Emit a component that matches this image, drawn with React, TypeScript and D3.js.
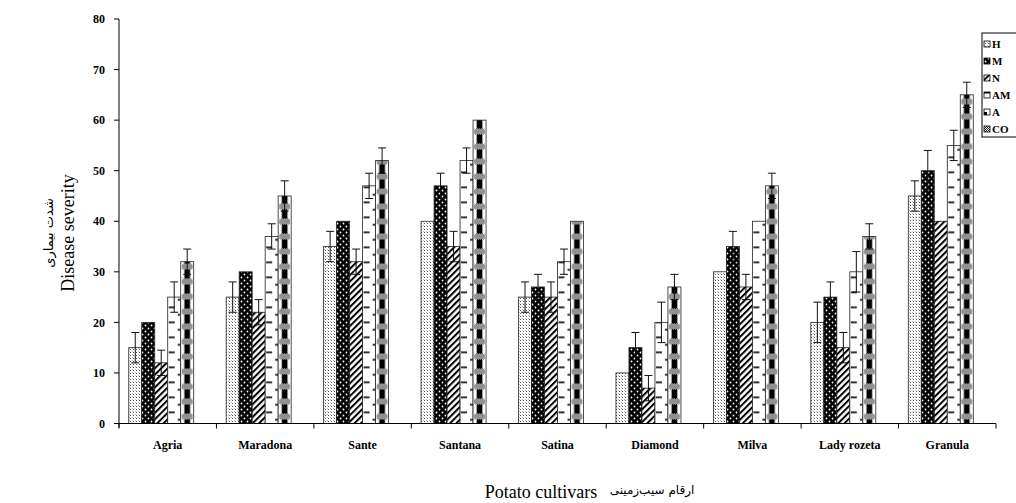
import React from "react";
import * as d3 from "d3";

const categories = ["Agria", "Maradona", "Sante", "Santana", "Satina", "Diamond", "Milva", "Lady rozeta", "Granula"];
const seriesNames = ["H", "M", "N", "AM", "A", "CO"];
const valH = [15, 25, 35, 40, 25, 10, 30, 20, 45];
const valM = [20, 30, 40, 47, 27, 15, 35, 25, 50];
const valN = [12, 22, 32, 35, 25, 7, 27, 15, 40];
const valAM = [25, 37, 47, 52, 32, 20, 40, 30, 55];
const valA = [32, 45, 52, 60, 40, 27, 47, 37, 65];
const errH = [3, 3, 3, 0, 3, 0, 0, 4, 3];
const errM = [0, 0, 0, 2.5, 2.5, 3, 3, 3, 4];
const errN = [2.5, 2.5, 2.5, 3, 3, 2.5, 2.5, 3, 0];
const errAM = [3, 2.5, 2.5, 2.5, 2.5, 4, 0, 4, 3];
const errA = [2.5, 3, 2.5, 0, 0, 2.5, 2.5, 2.5, 2.5];
const yTicks = [0, 10, 20, 30, 40, 50, 60, 70, 80];

const seriesData = [
  { name: "H", vals: valH, errs: errH },
  { name: "M", vals: valM, errs: errM },
  { name: "N", vals: valN, errs: errN },
  { name: "AM", vals: valAM, errs: errAM },
  { name: "A", vals: valA, errs: errA },
];

const W = 1016, H = 503;
const left = 119, right = 996, top = 19, bottom = 423.5;
const serif = "'Liberation Serif', 'Times New Roman', serif";

export default function App() {
  const x0 = d3.scaleBand<string>().domain(categories).range([left, right]).paddingInner(0).paddingOuter(0);
  const x1 = d3.scaleBand<string>().domain(seriesNames).range([0, x0.bandwidth()]).paddingInner(0).paddingOuter(0.75);
  const y = d3.scaleLinear().domain([0, 80]).range([bottom, top]);
  const bw = x1.bandwidth();

  const bars: any[] = [];
  seriesData.forEach((s) => {
    s.vals.forEach((v, i) => {
      const bx = (x0(categories[i]) as number) + (x1(s.name) as number);
      bars.push({ s: s.name, i, x: bx, y: y(v), h: y(0) - y(v), e: s.errs[i], v });
    });
  });

  const fillFor = (b: any) => {
    if (b.s === "H") return "url(#pH)";
    if (b.s === "M") return "url(#pM)";
    if (b.s === "N") return "url(#pN)";
    if (b.s === "AM") return `url(#pAM-${b.i})`;
    return `url(#pA-${b.i})`;
  };

  const legendY0 = 45, legendStep = 17;

  return (
    <svg width={W} height={H} style={{ position: "absolute", left: 0, top: 0, background: "#fff" }}>
      <defs>
        <pattern id="pH" patternUnits="userSpaceOnUse" width="3" height="3">
          <rect width="3" height="3" fill="#fff" />
          <rect x="1" y="1" width="1" height="1" fill="#555" />
          <rect x="0" y="0" width="1" height="1" fill="#bbb" />
        </pattern>
        <pattern id="pM" patternUnits="userSpaceOnUse" width="6" height="6">
          <rect width="6" height="6" fill="#000" />
          <circle cx="1.5" cy="1.5" r="0.9" fill="#fff" />
          <circle cx="4.5" cy="4.5" r="0.9" fill="#fff" />
        </pattern>
        <pattern id="pN" patternUnits="userSpaceOnUse" width="4.5" height="4.5" patternTransform="rotate(45)">
          <rect width="4.5" height="4.5" fill="#fff" />
          <rect width="2" height="4.5" fill="#000" />
        </pattern>
        <pattern id="chk" patternUnits="userSpaceOnUse" width="2" height="2">
          <rect width="2" height="2" fill="#fff" />
          <rect width="1" height="1" fill="#222" />
          <rect x="1" y="1" width="1" height="1" fill="#222" />
        </pattern>
        {categories.map((c, i) => {
          const bx = (x0(c) as number) + (x1("AM") as number);
          return (
            <pattern key={"am" + i} id={`pAM-${i}`} patternUnits="userSpaceOnUse" x={bx} y={bottom} width={bw} height="15">
              <rect width={bw} height="15" fill="#fff" />
              <rect x="1" y="3" width="6" height="1.6" fill="#000" />
              <rect x={bw - 3} y="10.5" width="3" height="1.6" fill="#000" />
            </pattern>
          );
        })}
        {categories.map((c, i) => {
          const bx = (x0(c) as number) + (x1("A") as number);
          return (
            <pattern key={"a" + i} id={`pA-${i}`} patternUnits="userSpaceOnUse" x={bx} y={bottom} width={bw} height="15">
              <rect width={bw} height="15" fill="#fff" />
              <rect x={bw * 0.28} width={bw * 0.44} height="15" fill="#000" />
              <rect x="1" y="5" width={bw - 2} height="6" rx="2" fill="url(#chk)" />
            </pattern>
          );
        })}
      </defs>

      {/* bars */}
      {bars.map((b, k) => (
        <rect key={"b" + k} x={b.x} y={b.y} width={bw} height={b.h} fill={fillFor(b)} stroke="#222" strokeWidth={0.8} />
      ))}

      {/* error bars */}
      {bars.filter((b) => b.e > 0).map((b, k) => {
        const cx = b.x + bw / 2;
        const y1 = y(b.v + b.e), y2 = y(b.v - b.e);
        return (
          <g key={"e" + k} stroke="#111" strokeWidth={1}>
            <line x1={cx} x2={cx} y1={y1} y2={y2} />
            <line x1={cx - 4} x2={cx + 4} y1={y1} y2={y1} />
            <line x1={cx - 4} x2={cx + 4} y1={y2} y2={y2} />
          </g>
        );
      })}

      {/* y axis */}
      <line x1={left} x2={left} y1={top} y2={bottom + 4} stroke="#000" />
      {yTicks.map((t) => (
        <g key={"yt" + t}>
          <line x1={left - 5} x2={left} y1={y(t)} y2={y(t)} stroke="#000" />
          <text x={left - 14} y={y(t)} dy="0.35em" textAnchor="end" fontFamily={serif} fontWeight="bold" fontSize={12}>{t}</text>
        </g>
      ))}

      {/* x axis */}
      <line x1={left} x2={right} y1={bottom} y2={bottom} stroke="#000" />
      {[...categories.map((c) => x0(c) as number), right].map((tx, k) => (
        <line key={"xt" + k} x1={tx} x2={tx} y1={bottom} y2={bottom + 5} stroke="#000" />
      ))}
      {categories.map((c) => (
        <text key={"xl" + c} x={(x0(c) as number) + x0.bandwidth() / 2} y={449} textAnchor="middle" fontFamily={serif} fontWeight="bold" fontSize={12}>{c}</text>
      ))}

      {/* axis titles */}
      <text transform="translate(74,233) rotate(-90)" textAnchor="middle" fontFamily={serif} fontSize={18}>Disease severity</text>
      <text transform="translate(53,233) rotate(-90)" textAnchor="middle" fontFamily="'DejaVu Sans', sans-serif" fontSize={13}>شدت بیماری</text>
      <text x={541} y={498} textAnchor="middle" fontFamily={serif} fontSize={18}>Potato cultivars</text>
      <text x={652} y={494} textAnchor="middle" fontFamily="'DejaVu Sans', sans-serif" fontSize={12}>ارقام سیب‌زمینی</text>

      {/* legend */}
      <rect x={982} y={33} width={60} height={104} fill="#fff" stroke="#000" strokeWidth={1} />
      {seriesNames.map((s, k) => {
        const ly = legendY0 + k * legendStep;
        let icon;
        if (s === "H") icon = <rect x={984} y={ly - 4} width={6} height={6} fill="url(#pH)" stroke="#000" strokeWidth={0.8} />;
        else if (s === "M") icon = <rect x={984} y={ly - 4} width={6} height={6} fill="url(#pM)" stroke="#000" strokeWidth={0.8} />;
        else if (s === "N") icon = <rect x={984} y={ly - 4} width={6} height={6} fill="url(#pN)" stroke="#000" strokeWidth={0.8} />;
        else if (s === "AM") icon = (
          <g>
            <rect x={984} y={ly - 4} width={6} height={6} fill="#fff" stroke="#000" strokeWidth={0.8} />
            <rect x={984} y={ly - 4} width={6} height={1.5} fill="#000" />
          </g>
        );
        else if (s === "A") icon = (
          <g>
            <rect x={984} y={ly - 4} width={6} height={6} fill="#fff" stroke="#000" strokeWidth={0.8} />
            <rect x={984} y={ly - 1} width={3} height={3} fill="#000" />
          </g>
        );
        else icon = <rect x={984} y={ly - 4} width={6} height={6} fill="url(#chk)" stroke="#000" strokeWidth={0.8} />;
        return (
          <g key={"lg" + s}>
            {icon}
            <text x={992} y={ly + 3} fontFamily={serif} fontWeight="bold" fontSize={11}>{s}</text>
          </g>
        );
      })}
    </svg>
  );
}
